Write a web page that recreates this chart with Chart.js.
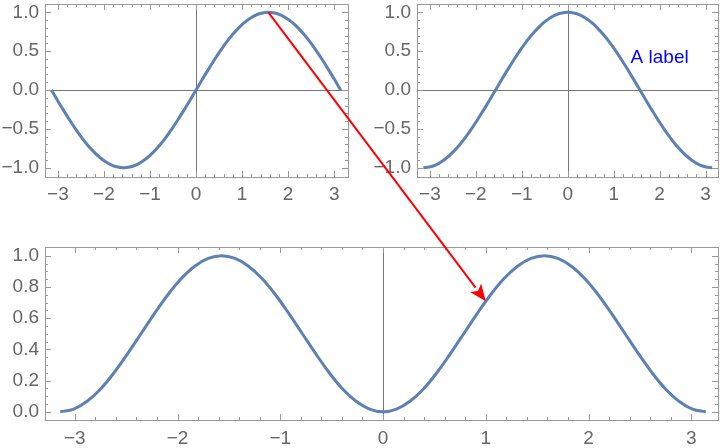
<!DOCTYPE html>
<html>
<head>
<meta charset="utf-8">
<script src="https://cdn.jsdelivr.net/npm/chart.js@4.4.0/dist/chart.umd.min.js"></script>
<style>
  body { margin: 0; background: #fff; }
  #wrap { position: relative; width: 720px; height: 448px; }
  canvas { position: absolute; }
</style>
</head>
<body>
<div id="wrap">
  <canvas id="sinChart" width="360" height="207" style="left:0;top:0"></canvas>
  <canvas id="cosChart" width="348" height="207" style="left:372px;top:0"></canvas>
  <canvas id="sqChart" width="720" height="218" style="left:0;top:230px"></canvas>
  <canvas id="arrow" width="720" height="448" style="left:0;top:0"></canvas>
</div>
<script>
// sample points
const xs = [-3.142, -3.011, -2.88, -2.749, -2.618, -2.487, -2.356, -2.225, -2.094, -1.963, -1.833, -1.702,
            -1.571, -1.44, -1.309, -1.178, -1.047, -0.916, -0.785, -0.654, -0.524, -0.393, -0.262, -0.131, 0,
            0.131, 0.262, 0.393, 0.524, 0.654, 0.785, 0.916, 1.047, 1.178, 1.309, 1.44, 1.571,
            1.702, 1.833, 1.963, 2.094, 2.225, 2.356, 2.487, 2.618, 2.749, 2.88, 3.011, 3.142];
const sinVals = [0, -0.131, -0.259, -0.383, -0.5, -0.609, -0.707, -0.793, -0.866, -0.924, -0.966, -0.991,
                 -1, -0.991, -0.966, -0.924, -0.866, -0.793, -0.707, -0.609, -0.5, -0.383, -0.259, -0.131, 0,
                 0.131, 0.259, 0.383, 0.5, 0.609, 0.707, 0.793, 0.866, 0.924, 0.966, 0.991, 1,
                 0.991, 0.966, 0.924, 0.866, 0.793, 0.707, 0.609, 0.5, 0.383, 0.259, 0.131, 0];
const cosVals = [-1, -0.991, -0.966, -0.924, -0.866, -0.793, -0.707, -0.609, -0.5, -0.383, -0.259, -0.131,
                 0, 0.131, 0.259, 0.383, 0.5, 0.609, 0.707, 0.793, 0.866, 0.924, 0.966, 0.991, 1,
                 0.991, 0.966, 0.924, 0.866, 0.793, 0.707, 0.609, 0.5, 0.383, 0.259, 0.131, 0,
                 -0.131, -0.259, -0.383, -0.5, -0.609, -0.707, -0.793, -0.866, -0.924, -0.966, -0.991, -1];
const sqVals = [0, 0.017, 0.067, 0.146, 0.25, 0.371, 0.5, 0.629, 0.75, 0.854, 0.933, 0.983,
                1, 0.983, 0.933, 0.854, 0.75, 0.629, 0.5, 0.371, 0.25, 0.146, 0.067, 0.017, 0,
                0.017, 0.067, 0.146, 0.25, 0.371, 0.5, 0.629, 0.75, 0.854, 0.933, 0.983, 1,
                0.983, 0.933, 0.854, 0.75, 0.629, 0.5, 0.371, 0.25, 0.146, 0.067, 0.017, 0];

// annotation: label on the cos panel, arrow from sin panel to sin^2 panel
const labelText = 'A label';
const labelAt = [2.0, 0.41];
const arrowFrom = [1.571, 1.0];
const arrowTo = [1.0, 0.708];

const lineColor = '#5E81B5';
const minus = s => s.replace('-', '\u2212');

const pts = ys => xs.map((x, i) => ({ x: x, y: ys[i] }));

const framePlugin = {
  id: 'frame',
  beforeDatasetsDraw(chart, args, opts) {
    const { ctx, chartArea: a, scales: { x, y } } = chart;
    ctx.save();
    ctx.strokeStyle = '#777';
    ctx.lineWidth = 1;
    ctx.beginPath();
    if (opts.vAxis) {
      const px = Math.round(x.getPixelForValue(0)) + 0.5;
      ctx.moveTo(px, a.top); ctx.lineTo(px, a.bottom);
    }
    if (opts.hAxis) {
      const py = Math.round(y.getPixelForValue(0)) + 0.5;
      ctx.moveTo(a.left, py); ctx.lineTo(a.right, py);
    }
    ctx.stroke();
    ctx.restore();
  },
  afterDraw(chart, args, opts) {
    const { ctx, chartArea: a, scales: { x, y } } = chart;
    const isStep = (v, s) => Math.abs(v / s - Math.round(v / s)) < 1e-6;
    ctx.save();
    ctx.strokeStyle = '#999';
    ctx.lineWidth = 1;
    ctx.strokeRect(Math.round(a.left) + 0.5, Math.round(a.top) + 0.5,
                   Math.round(a.right - a.left), Math.round(a.bottom - a.top));
    ctx.beginPath();
    x.ticks.forEach(t => {
      if (!isStep(t.value, opts.xMinor)) return;
      const len = isStep(t.value, opts.xMajor) ? 6 : 3;
      const px = Math.round(x.getPixelForValue(t.value)) + 0.5;
      ctx.moveTo(px, a.bottom); ctx.lineTo(px, a.bottom - len);
      ctx.moveTo(px, a.top); ctx.lineTo(px, a.top + len);
    });
    y.ticks.forEach(t => {
      if (!isStep(t.value, opts.yMinor)) return;
      const len = isStep(t.value, opts.yMajor) ? 6 : 3;
      const py = Math.round(y.getPixelForValue(t.value)) + 0.5;
      ctx.moveTo(a.left, py); ctx.lineTo(a.left + len, py);
      ctx.moveTo(a.right, py); ctx.lineTo(a.right - len, py);
    });
    ctx.stroke();
    if (opts.label) {
      ctx.fillStyle = '#0000ff';
      ctx.font = '19px "Liberation Sans", Arial, sans-serif';
      ctx.textAlign = 'center';
      ctx.textBaseline = 'middle';
      ctx.fillText(opts.label, x.getPixelForValue(opts.labelAt[0]), y.getPixelForValue(opts.labelAt[1]));
    }
    ctx.restore();
  }
};

// drop the extra room chart.js keeps for overhanging tick labels
const noOverhang = s => { s.paddingTop = 0; s.paddingBottom = 0; s.paddingLeft = 0; s.paddingRight = 0; };

function makeChart(id, ys, cfg) {
  const font = { family: '"Liberation Sans", Arial, sans-serif', size: 19 };
  return new Chart(document.getElementById(id), {
    type: 'scatter',
    data: {
      datasets: [{
        data: pts(ys),
        showLine: true,
        borderColor: lineColor,
        borderWidth: 3,
        borderJoinStyle: 'round',
        pointRadius: 0,
        tension: 0.4
      }]
    },
    options: {
      responsive: false,
      animation: false,
      layout: { padding: cfg.padding },
      plugins: {
        legend: { display: false },
        tooltip: { enabled: false },
        frame: cfg.frame
      },
      scales: {
        x: {
          type: 'linear',
          min: cfg.xMin, max: cfg.xMax,
          grid: { display: false, drawTicks: false },
          border: { display: false },
          afterFit: s => { s.height = cfg.xH; noOverhang(s); },
          ticks: {
            stepSize: cfg.frame.xMinor,
            autoSkip: false, maxRotation: 0, maxTicksLimit: 200,
            padding: cfg.xPad, color: '#666', font: font,
            callback: v => Math.abs(v - Math.round(v)) < 1e-6 ? minus(String(Math.round(v))) : ''
          }
        },
        y: {
          type: 'linear',
          min: cfg.yMin, max: cfg.yMax,
          grid: { display: false, drawTicks: false },
          border: { display: false },
          afterFit: s => { s.width = 45; noOverhang(s); },
          ticks: {
            stepSize: cfg.frame.yMinor,
            autoSkip: false, maxTicksLimit: 200,
            padding: 6, color: '#666', font: font,
            callback: v => Math.abs(v / cfg.frame.yMajor - Math.round(v / cfg.frame.yMajor)) < 1e-6
              ? minus((Math.round(v / cfg.frame.yMajor) * cfg.frame.yMajor).toFixed(1)) : ''
          }
        }
      }
    },
    plugins: [framePlugin]
  });
}

const sinChart = makeChart('sinChart', sinVals, {
  padding: { top: 4, right: 12, left: 0, bottom: 0 },
  xMin: -3.28, xMax: 3.3, yMin: -1.12, yMax: 1.107, xH: 30, xPad: 6,
  frame: { vAxis: true, hAxis: true, xMinor: 0.2, xMajor: 1, yMinor: 0.1, yMajor: 0.5 }
});
const cosChart = makeChart('cosChart', cosVals, {
  padding: { top: 4, right: 2, left: 0, bottom: 0 },
  xMin: -3.28, xMax: 3.27, yMin: -1.12, yMax: 1.107, xH: 30, xPad: 6,
  frame: { vAxis: true, hAxis: true, xMinor: 0.2, xMajor: 1, yMinor: 0.1, yMajor: 0.5,
           label: labelText, labelAt: labelAt }
});
const sqChart = makeChart('sqChart', sqVals, {
  padding: { top: 17, right: 2, left: 0, bottom: 0 },
  xMin: -3.29, xMax: 3.26, yMin: -0.053, yMax: 1.056, xH: 28, xPad: 7,
  frame: { vAxis: true, hAxis: false, xMinor: 0.2, xMajor: 1, yMinor: 0.05, yMajor: 0.2 }
});

// red arrow across panels
(function () {
  const ctx = document.getElementById('arrow').getContext('2d');
  const x0 = sinChart.scales.x.getPixelForValue(arrowFrom[0]);
  const y0 = sinChart.scales.y.getPixelForValue(arrowFrom[1]);
  const x1 = sqChart.scales.x.getPixelForValue(arrowTo[0]);
  const y1 = sqChart.scales.y.getPixelForValue(arrowTo[1]) + 230;
  const ang = Math.atan2(y1 - y0, x1 - x0);
  const hl = 17, hw = 7;
  const bx = x1 - hl * Math.cos(ang), by = y1 - hl * Math.sin(ang);
  ctx.strokeStyle = '#ff0000';
  ctx.fillStyle = '#ff0000';
  ctx.lineWidth = 2;
  ctx.beginPath();
  ctx.moveTo(x0, y0);
  ctx.lineTo(bx, by);
  ctx.stroke();
  ctx.beginPath();
  ctx.moveTo(x1, y1);
  ctx.lineTo(bx + hw * Math.sin(ang), by - hw * Math.cos(ang));
  ctx.lineTo(bx + 4 * Math.cos(ang), by + 4 * Math.sin(ang));
  ctx.lineTo(bx - hw * Math.sin(ang), by + hw * Math.cos(ang));
  ctx.closePath();
  ctx.fill();
})();
</script>
</body>
</html>
